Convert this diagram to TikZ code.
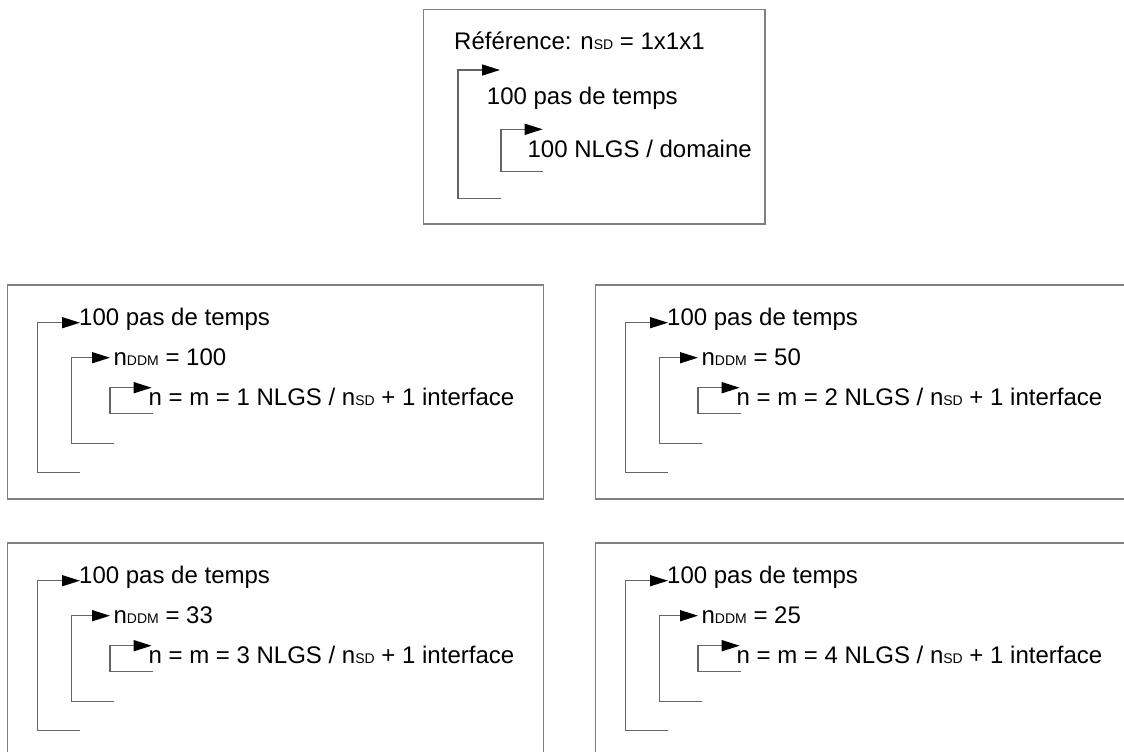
\documentclass[tikz,border=0pt]{standalone}
\usepackage{fontspec}
\setmainfont{Liberation Sans}
\usetikzlibrary{arrows.meta,calc}
\definecolor{framegray}{RGB}{128,128,128}
\definecolor{linegray}{RGB}{100,100,100}
\newcommand{\idx}[1]{{\fontsize{14}{14}\selectfont #1}}

\begin{document}
\begin{tikzpicture}[
  x=1pt, y=-1pt,
  frame/.style={draw=framegray, line width=1.8pt},
  bracket/.style={draw=linegray, line width=1.5pt, -{Triangle[length=18pt,width=11pt,color=black]}},
  lbl/.style={inner sep=0pt, anchor=base west, font=\fontsize{24}{28}\selectfont}
]
\useasboundingbox (0,0) rectangle (1124,752);
\clip (0,0) rectangle (1124,752);

% reference run
\draw[frame] (423.5,9.5) rectangle (765,224);
\node[lbl] (ref) at (454,50) {Référence: n\idx{SD} = 1x1x1};
\node[lbl] (refsteps) at (486.7,104.3) {100 pas de temps};
\node[lbl] (refnlgs) at (527.4,157.7) {100 NLGS / domaine};
\coordinate (refend1) at (500.7,198.3);
\coordinate (refend2) at (543.3,171.7);
\draw[bracket] (refend1) -- ++(-42.5,0) |- ([shift={(13.3,-34.3)}]refsteps.base west);
\draw[bracket] (refend2) -- ++(-42.5,0) |- ([shift={(15.3,-28.4)}]refnlgs.base west);

% DDM runs
\foreach \dx/\dy/\nddm/\k in {0/0/100/1,588/0/50/2,0/258/33/3,588/258/25/4}{
  \begin{scope}[shift={(\dx,\dy)}]
    \draw[frame] (7.5,285) rectangle (543.5,499);
    \node[lbl] (steps\k) at (79,325) {100 pas de temps};
    \node[lbl] (ddm\k) at (113.4,365.7) {n\idx{DDM} = \nddm};
    \node[lbl] (nlgs\k) at (148.4,405) {n = m = \k{} NLGS / n\idx{SD} + 1 interface};
    \coordinate (stepsend\k) at (80,472.7);
    \coordinate (ddmend\k) at (114.3,443.3);
    \coordinate (nlgsend\k) at (153.3,413.3);
    \draw[bracket] (stepsend\k) -- ++(-42.7,0) |- ([shift={(1,-2.3)}]steps\k.base west);
    \draw[bracket] (ddmend\k) -- ++(-42.6,0) |- ([shift={(-3.4,-8)}]ddm\k.base west);
    \draw[bracket] (nlgsend\k) -- ++(-43.3,0) |- ([shift={(3.3,-17.3)}]nlgs\k.base west);
  \end{scope}
}
\end{tikzpicture}
\end{document}
